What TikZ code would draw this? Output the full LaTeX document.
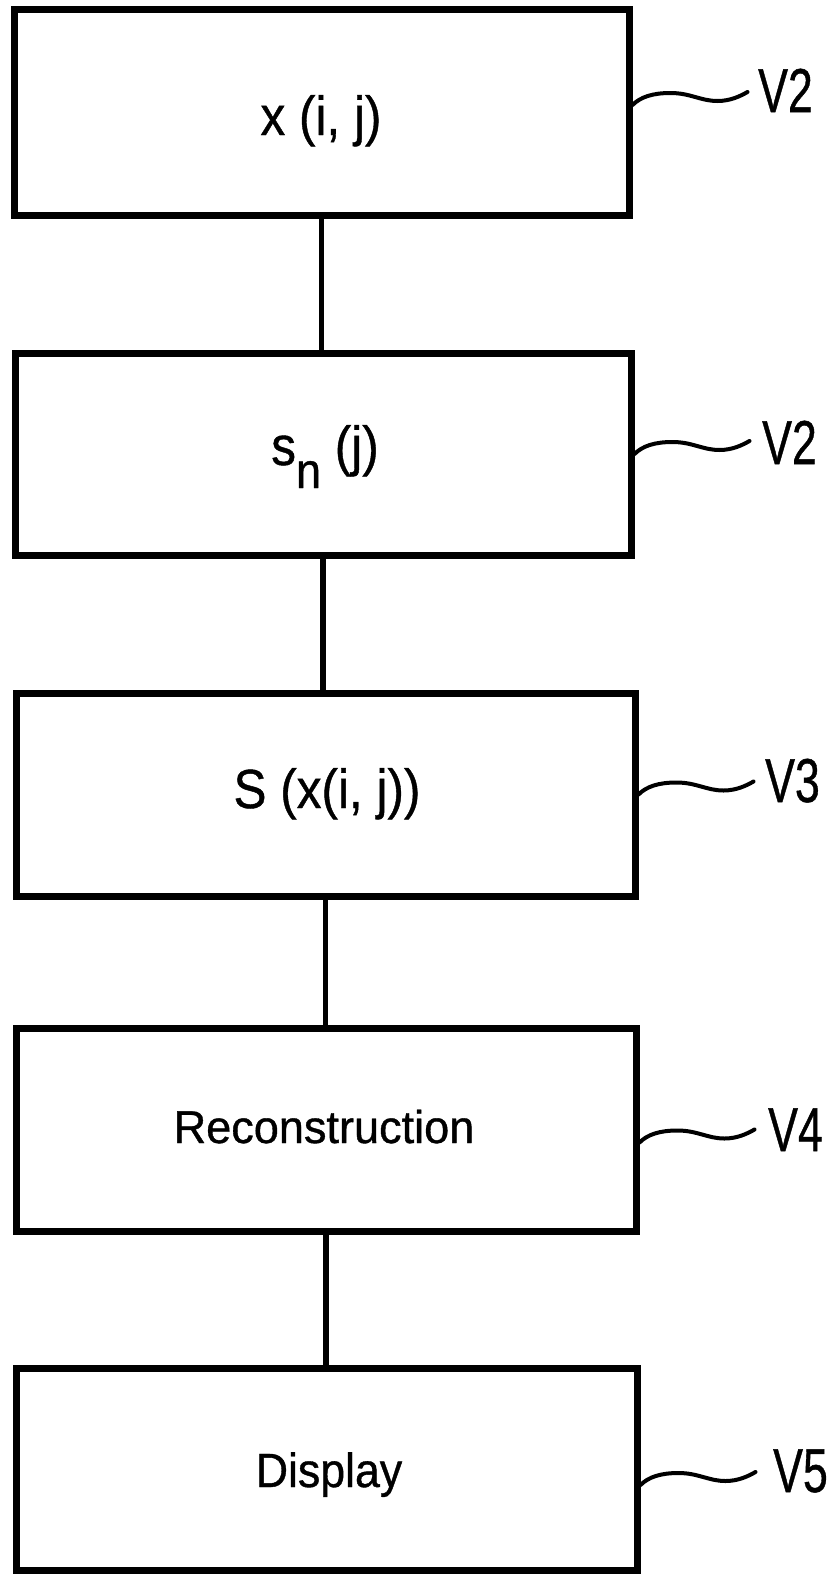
\documentclass[tikz,border=0pt]{standalone}
\usepackage{fontspec}
\setmainfont{Liberation Sans}[FakeBold=0.8]
\usetikzlibrary{calc}
\tikzset{
  box/.style={draw, line width=7pt, rectangle, inner sep=0pt},
  conn/.style={line width=5.5pt},
  lead/.style={line width=4pt, line cap=round},
  txt/.style={inner sep=0pt, anchor=base},
  lbl/.style={inner sep=0pt, anchor=base west},
}
\newcommand{\bigtxt}[2]{\scalebox{#1}[1]{#2}}
\newcommand{\reflbl}[1]{\fontsize{62}{66}\selectfont\scalebox{0.72}[1]{#1}}
\begin{document}
\begin{tikzpicture}[x=1pt,y=-1pt]
\useasboundingbox (0,0) rectangle (833,1574);
% boxes
\node[box, minimum width=615pt, minimum height=206pt] (b1) at (321.5,112) {};
\node[box, minimum width=616pt, minimum height=202pt] (b2) at (323,454) {};
\node[box, minimum width=619pt, minimum height=203pt] (b3) at (325.5,794.5) {};
\node[box, minimum width=620pt, minimum height=203pt] (b4) at (326,1129.5) {};
\node[box, minimum width=621pt, minimum height=202pt] (b5) at (326.5,1469) {};
% texts
\node[txt] (t1) at (321,135) {\fontsize{55}{60}\selectfont\bigtxt{0.9}{x (i, j)}};
\node[txt] (t2) at (325,465) {\fontsize{55}{60}\selectfont\bigtxt{0.9}{s\raisebox{-23pt}{\fontsize{50}{55}\selectfont n} (j)}};
\node[txt] (t3) at (327,808) {\fontsize{55}{60}\selectfont\bigtxt{0.9}{S (x(i, j))}};
\node[txt] (t4) at (324,1143) {\fontsize{46}{52}\selectfont\bigtxt{0.98}{Reconstruction}};
\node[txt] (t5) at (329,1487) {\fontsize{48}{54}\selectfont\bigtxt{0.93}{Display}};
% connectors
\draw[conn] (b1.south) -- (b1.south |- b2.north);
\draw[conn] (b2.south) -- (b2.south |- b3.north);
\draw[conn] (b3.south) -- (b3.south |- b4.north);
\draw[conn] (b4.south) -- (b4.south |- b5.north);
% reference labels
\node[lbl] (l1) at (758,112) {\reflbl{V2}};
\node[lbl] (l2) at (762,464) {\reflbl{V2}};
\node[lbl] (l3) at (765,802) {\reflbl{V3}};
\node[lbl] (l4) at (768,1151) {\reflbl{V4}};
\node[lbl] (l5) at (773,1492) {\reflbl{V5}};
% leader lines
\foreach \b/\s in {b1/7, b2/0, b3/0, b4/-13, b5/-16}{
  \draw[lead] ([yshift=\s pt]\b.east)
    .. controls +(8,-8) and +(-18,0) .. ++(38,-12)
    .. controls +(20,0) and +(-17,0) .. ++(47,8)
    .. controls +(13,0) and +(-7,4) .. ++(30,-9);
}
\end{tikzpicture}
\end{document}
